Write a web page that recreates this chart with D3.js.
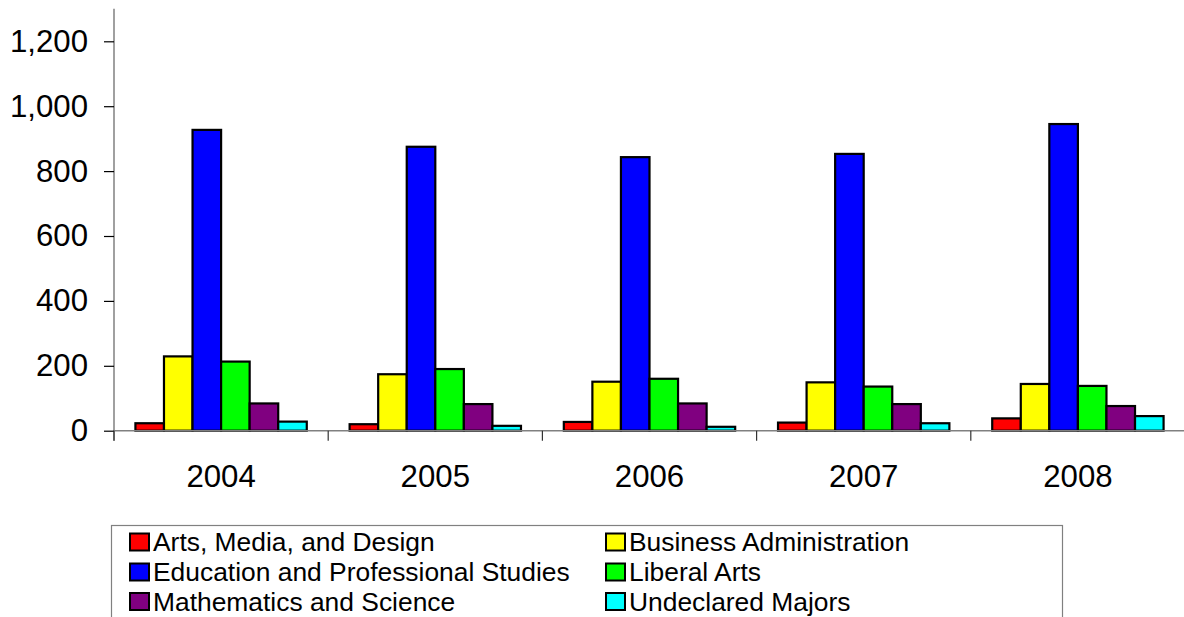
<!DOCTYPE html>
<html>
<head>
<meta charset="utf-8">
<script src="https://cdn.jsdelivr.net/npm/d3@7"></script>
<style>
  html, body { margin: 0; padding: 0; background: #fff; }
  svg { display: block; font-family: "Liberation Sans", Arial, sans-serif; }
</style>
</head>
<body>
<svg id="chart" width="1184" height="617"></svg>
<script>
const years = ["2004", "2005", "2006", "2007", "2008"];
const seriesNames = ["Arts, Media, and Design", "Business Administration", "Education and Professional Studies", "Liberal Arts", "Mathematics and Science", "Undeclared Majors"];
const seriesColors = ["#FF0000", "#FFFF00", "#0000FF", "#00FF00", "#800080", "#00FFFF"];
const artsMedia = [23, 20, 27, 25, 38];
const business = [229, 174, 151, 149, 144];
const education = [927, 875, 843, 853, 945];
const liberalArts = [213, 190, 160, 136, 138];
const mathScience = [84, 82, 84, 82, 76];
const undeclared = [28, 15, 12, 23, 45];
const yTicks = [0, 200, 400, 600, 800, 1000, 1200];
const yMax = 1300;

const seriesValues = [artsMedia, business, education, liberalArts, mathScience, undeclared];

const svg = d3.select("#chart");
const plotLeft = 114, plotRight = 1185, plotTop = 8.85, plotBottom = 430.7;

const y = d3.scaleLinear().domain([0, yMax]).range([plotBottom, plotTop]);
const x = d3.scaleBand().domain(years).range([plotLeft, plotRight]).paddingInner(0).paddingOuter(0);
const xSub = d3.scaleBand().domain(seriesNames).range([0, x.bandwidth()]).paddingInner(0).paddingOuter(0.75);

// bars
const groups = svg.append("g").selectAll("g")
  .data(years)
  .join("g")
  .attr("transform", d => `translate(${x(d)},0)`);

groups.selectAll("rect")
  .data((yr, i) => seriesNames.map((s, j) => ({ series: s, value: seriesValues[j][i], color: seriesColors[j] })))
  .join("rect")
  .attr("x", d => xSub(d.series))
  .attr("width", xSub.bandwidth())
  .attr("y", d => y(d.value))
  .attr("height", d => plotBottom - y(d.value))
  .attr("fill", d => d.color)
  .attr("stroke", "#000")
  .attr("stroke-width", 2.2);

// y axis
const yAxis = svg.append("g")
  .attr("transform", `translate(${plotLeft},0)`)
  .call(d3.axisLeft(y).tickValues(yTicks).tickFormat(d3.format(",")).tickSize(10).tickPadding(16));
yAxis.select(".domain").attr("stroke", "#808080").attr("stroke-width", 1.5).attr("d", `M0,${plotTop}V${plotBottom + 10}`);
yAxis.selectAll(".tick line").attr("stroke", "#000").attr("stroke-width", 1.2);
yAxis.selectAll("text").attr("font-size", "31.2px").attr("fill", "#000")
  .attr("font-family", "'Liberation Sans', Arial, sans-serif");

// x axis
const xAxis = svg.append("g")
  .attr("transform", `translate(0,${plotBottom})`)
  .call(d3.axisBottom(x).tickSize(0).tickPadding(34));
xAxis.select(".domain").attr("stroke", "#808080").attr("stroke-width", 1.5).attr("d", `M${plotLeft},0H${plotRight}`);
xAxis.selectAll("text").attr("font-size", "31.2px").attr("fill", "#000")
  .attr("font-family", "'Liberation Sans', Arial, sans-serif");
// category boundary ticks
const boundaries = years.map(d => x(d)).concat([x(years[years.length - 1]) + x.bandwidth()]);
xAxis.selectAll("line.bound")
  .data(boundaries)
  .join("line")
  .attr("class", "bound")
  .attr("x1", d => d).attr("x2", d => d)
  .attr("y1", 0).attr("y2", 10)
  .attr("stroke", "#333").attr("stroke-width", 1.2);

// legend
const legend = svg.append("g");
legend.append("rect")
  .attr("x", 111.5).attr("y", 525.5)
  .attr("width", 951).attr("height", 120)
  .attr("fill", "#fff").attr("stroke", "#808080").attr("stroke-width", 1.2);

const colX = [129, 605];
const rowBase = [551, 581, 610.5];
const items = legend.selectAll("g.item")
  .data(seriesNames.map((s, i) => ({ name: s, color: seriesColors[i], col: i % 2, row: Math.floor(i / 2) })))
  .join("g")
  .attr("class", "item")
  .attr("transform", d => `translate(${colX[d.col]},${rowBase[d.row]})`);
items.append("rect")
  .attr("x", 1).attr("y", -17.5)
  .attr("width", 19).attr("height", 17)
  .attr("fill", d => d.color)
  .attr("stroke", "#000").attr("stroke-width", 2);
items.append("text")
  .attr("x", 24).attr("y", 0)
  .attr("font-size", "26.4px")
  .attr("fill", "#000")
  .text(d => d.name);
</script>
</body>
</html>
